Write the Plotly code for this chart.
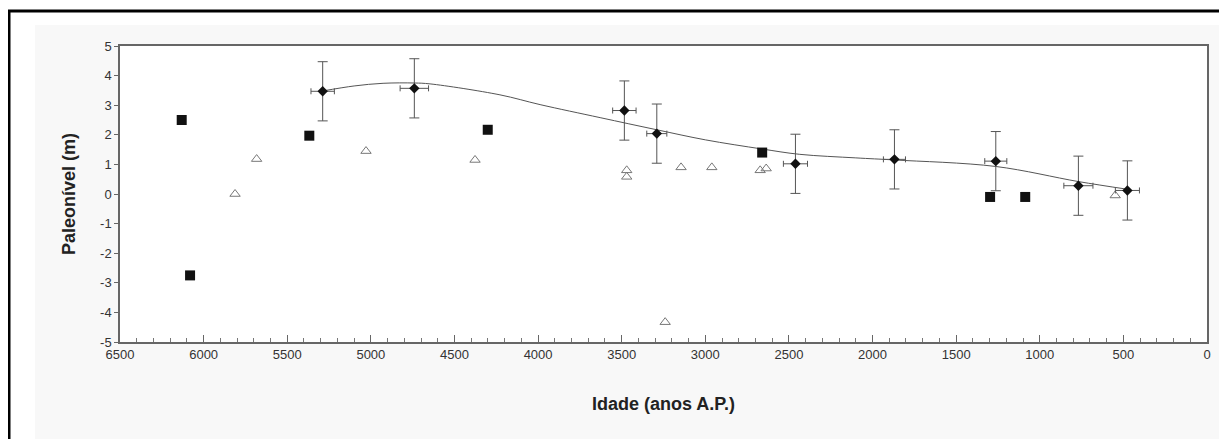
import plotly.graph_objects as go

# Black squares
sq_x = [6131, 6081, 5368, 4301, 2660, 1297, 1087]
sq_y = [2.5, -2.75, 1.97, 2.17, 1.4, -0.1, -0.1]

# Open triangles
tri_x = [5812, 5683, 5029, 4377, 3470, 3470, 3145, 2961, 2672, 2636, 3240, 549]
tri_y = [0.0, 1.18, 1.45, 1.15, 0.8, 0.58, 0.9, 0.9, 0.8, 0.86, -4.33, -0.05]

# Diamonds with error bars
dia_x = [5288, 4740, 3484, 3290, 2461, 1869, 1263, 769, 476]
dia_y = [3.47, 3.57, 2.82, 2.04, 1.02, 1.17, 1.11, 0.28, 0.12]
dia_xerr = [70, 85, 70, 60, 72, 66, 66, 87, 72]
dia_yerr = [1, 1, 1, 1, 1, 1, 1, 1, 1]

# Smooth fitted curve
curve_x = [5288, 5100, 4927, 4740, 4646, 4228, 3988, 3629, 3290, 3000, 2660, 2435, 2100, 1869, 1263, 769, 476]
curve_y = [3.48, 3.65, 3.74, 3.75, 3.72, 3.35, 3.02, 2.58, 2.17, 1.83, 1.52, 1.34, 1.22, 1.15, 0.93, 0.42, 0.16]

x_ticks = [6500, 6000, 5500, 5000, 4500, 4000, 3500, 3000, 2500, 2000, 1500, 1000, 500, 0]
y_ticks = [-5, -4, -3, -2, -1, 0, 1, 2, 3, 4, 5]

fig = go.Figure()

fig.add_trace(go.Scatter(x=curve_x, y=curve_y, mode="lines",
                         line=dict(color="#555555", width=1, shape="spline", smoothing=1.0),
                         hoverinfo="skip"))
fig.add_trace(go.Scatter(x=sq_x, y=sq_y, mode="markers",
                         marker=dict(symbol="square", size=10, color="#111111")))
fig.add_trace(go.Scatter(x=tri_x, y=tri_y, mode="markers",
                         marker=dict(symbol="triangle-up-open", size=9, color="#777777",
                                     line=dict(width=1))))
fig.add_trace(go.Scatter(x=dia_x, y=dia_y, mode="markers",
                         marker=dict(symbol="diamond", size=8, color="#111111"),
                         error_y=dict(type="data", array=dia_yerr, visible=True,
                                      color="#555555", thickness=1, width=5),
                         error_x=dict(type="data", array=dia_xerr, visible=True,
                                      color="#555555", thickness=1, width=3)))

OFF = 8  # page body margin
W, H = 1227, 439
# target screen-pixel positions of the plot area
SX0, SX1, SY0, SY1 = 120, 1207, 46, 342
L, T = SX0 - OFF, SY0 - OFF
R = W - (SX1 - OFF)
B = H - (SY1 - OFF)
pw, ph = SX1 - SX0, SY1 - SY0

def px(xs):
    return (xs - SX0) / pw

def py(ys):
    return (SY1 - ys) / ph

shapes = [
    dict(type="rect", xref="paper", yref="paper", x0=px(35), x1=px(1260), y0=py(480), y1=py(25),
         fillcolor="#f8f8f8", line=dict(width=0), layer="below"),
    dict(type="rect", xref="paper", yref="paper", x0=0, x1=1, y0=0, y1=1,
         fillcolor="white", line=dict(width=0), layer="below"),
    dict(type="rect", xref="paper", yref="paper", x0=px(9), x1=px(1300), y0=py(520), y1=py(11),
         fillcolor="rgba(0,0,0,0)", line=dict(color="black", width=3), layer="above"),
]

fig.update_layout(
    width=W, height=H,
    margin=dict(l=L, r=R, t=T, b=B),
    paper_bgcolor="white",
    plot_bgcolor="rgba(0,0,0,0)",
    showlegend=False,
    shapes=shapes,
    font=dict(family="Liberation Sans, Arial, sans-serif", color="#222222"),
)

fig.update_xaxes(
    range=[6500, 0], tickvals=x_ticks, ticktext=[str(v) for v in x_ticks],
    showgrid=False, zeroline=False,
    showline=True, linecolor="#666666", linewidth=1.5, mirror=True,
    ticks="inside", ticklen=7, tickcolor="#666666", tickwidth=1,
    minor=dict(dtick=100, tick0=0, ticks="inside", ticklen=4, tickcolor="#777777", showgrid=False),
    tickfont=dict(size=13, color="#333333", family="Liberation Sans Narrow, Liberation Sans, Arial"),
    title=dict(text="<b>Idade (anos A.P.)</b>", font=dict(size=18, color="#222222"), standoff=36),
)
fig.update_yaxes(
    range=[-5, 5], tickvals=y_ticks, ticktext=[str(v) for v in y_ticks],
    showgrid=False, zeroline=False,
    showline=True, linecolor="#666666", linewidth=1.5, mirror=True,
    ticks="outside", ticklen=4, tickcolor="#666666", tickwidth=1,
    tickfont=dict(size=13, color="#333333"),
    title=dict(text="<b>Paleonível (m)</b>", font=dict(size=18, color="#222222"), standoff=20),
)

fig.write_html("out.html")
